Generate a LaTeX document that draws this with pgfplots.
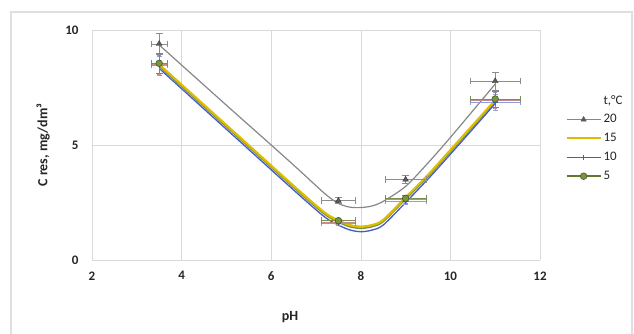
\documentclass[border=0pt]{standalone}
\usepackage{pgfplots}
\pgfplotsset{compat=1.18}
\usepackage{fontspec}
\setmainfont{Carlito}
\definecolor{cgray}{RGB}{135,135,135}
\definecolor{cgraymk}{RGB}{90,90,90}
\definecolor{cyel}{RGB}{222,188,0}
\definecolor{cblue}{RGB}{70,90,200}
\definecolor{cgreen}{RGB}{120,150,60}
\definecolor{cgreenedge}{RGB}{75,98,40}
\begin{document}
\begin{tikzpicture}
\useasboundingbox (0,0) rectangle (634pt,333pt);
\draw[gray!25, line width=1.2pt] (11pt,-2pt) -- (11pt,321pt) -- (632pt,321pt) -- (632pt,-2pt);
\begin{axis}[
  at={(92pt,73pt)}, anchor=south west,
  scale only axis, width=448pt, height=230pt,
  xmin=2, xmax=12, ymin=0, ymax=10,
  xtick={2,4,...,12}, ytick={0,5,10},
  grid=major, major grid style={gray!30, line width=0.6pt},
  axis line style={draw=none},
  tick style={draw=none},
  /pgf/number format/assume math mode=true,
  ticklabel style={font=\fontsize{13}{15}\selectfont\bfseries, text=black!85},
  xticklabel style={yshift=-8pt},
  yticklabel style={xshift=-10pt},
  xlabel={pH}, ylabel={C res, mg/dm³},
  label style={font=\fontsize{14}{16}\selectfont\bfseries, text=black!85},
  xlabel style={at={(axis description cs:0.442,-0.248)}, anchor=center},
  ylabel style={at={(axis description cs:-0.109,0.5)}, anchor=center, rotate=0},
  clip=false,
  legend style={at={(axis description cs:1.05,0.735)}, anchor=north west, draw=none, fill=none,
    font=\fontsize{13}{15}\selectfont, text=black!85, row sep=5pt, cells={anchor=west}},
  legend cell align=left,
  legend image code/.code={\draw[mark repeat=2, mark phase=2, #1] plot coordinates {(0pt,0pt)(17pt,0pt)(34pt,0pt)};},
]
% smooth model lines
\addplot[forget plot, cgray, line width=1.2pt, smooth, tension=0.5] coordinates {
(3.5,9.35)(5,6.73)(6,5.0)(6.6,3.95)(7.2,2.88)(7.5,2.46)(7.75,2.3)(8,2.28)(8.25,2.35)(8.5,2.55)(9,3.2)(9.5,4.22)(10,5.33)(11,7.65)};
\addplot[forget plot, cgreen, line width=1.6pt, smooth, tension=0.5] coordinates {
(3.5,8.43)(5.53,4.86)(6.6,2.98)(7.2,1.98)(7.5,1.65)(7.75,1.45)(8,1.38)(8.25,1.45)(8.5,1.67)(9,2.65)(9.5,3.63)(10,4.71)(11,6.88)};
\addplot[forget plot, cblue, line width=1.3pt, smooth, tension=0.5] coordinates {
(3.5,8.33)(5.53,4.75)(6.6,2.87)(7.2,1.86)(7.5,1.52)(7.75,1.31)(8,1.23)(8.25,1.3)(8.5,1.52)(9,2.5)(9.5,3.52)(10,4.6)(11,6.8)};
\addplot[forget plot, cyel, line width=2.2pt, smooth, tension=0.5] coordinates {
(3.5,8.5)(5.53,4.93)(6.6,3.05)(7.2,2.05)(7.5,1.72)(7.75,1.52)(8,1.45)(8.25,1.52)(8.5,1.74)(9,2.72)(9.5,3.7)(10,4.78)(11,6.95)};
% measured points with 5% error bars
\addplot[forget plot, draw=none, mark=none,
  error bars/.cd, x dir=both, x fixed relative=0.05, y dir=both, y fixed relative=0.05,
  error bar style={color=red!30!gray!70, line width=0.5pt}] coordinates {
(3.5,8.5)(7.5,1.65)(9,2.62)(11,6.95)};
\addplot[forget plot, draw=none, mark=+, mark size=2.5pt, mark options={cblue, line width=0.6pt},
  error bars/.cd, x dir=both, x fixed relative=0.05, y dir=both, y fixed relative=0.05,
  error bar style={color=cblue!60, line width=0.5pt}] coordinates {
(3.5,8.45)(7.5,1.6)(9,2.55)(11,6.85)};
\addplot[forget plot, draw=none, mark=triangle*, mark size=3.3pt, mark options={fill=cgraymk, draw=cgraymk!70!black},
  error bars/.cd, x dir=both, x fixed relative=0.05, y dir=both, y fixed relative=0.05,
  error bar style={color=gray!90, line width=0.5pt}] coordinates {
(3.5,9.4)(7.5,2.58)(9,3.5)(11,7.78)};
\addplot[forget plot, draw=none, mark=*, mark size=3.3pt, mark options={fill=cgreen, draw=cgreenedge, line width=0.7pt},
  error bars/.cd, x dir=both, x fixed relative=0.05, y dir=both, y fixed relative=0.05,
  error bar style={color=cgreen!70!gray, line width=0.5pt}] coordinates {
(3.5,8.55)(7.5,1.71)(9,2.68)(11,7.0)};
% legend
\addlegendimage{empty legend}
\addlegendentry{t,°C}
\addlegendimage{draw=cgray, line width=1.4pt, mark=triangle*, mark size=3pt, mark options={fill=cgraymk, draw=cgraymk, line width=0.5pt}}
\addlegendentry{20}
\addlegendimage{draw=cyel, line width=2pt, mark=none}
\addlegendentry{15}
\addlegendimage{draw=cblue, line width=1.5pt, mark=+, mark size=2.5pt, mark options={line width=0.8pt}}
\addlegendentry{10}
\addlegendimage{draw=cgreen!80!black, line width=1.4pt, mark=*, mark size=3.3pt, mark options={fill=cgreen, draw=cgreenedge, line width=0.7pt}}
\addlegendentry{5}
\end{axis}
\end{tikzpicture}
\end{document}
